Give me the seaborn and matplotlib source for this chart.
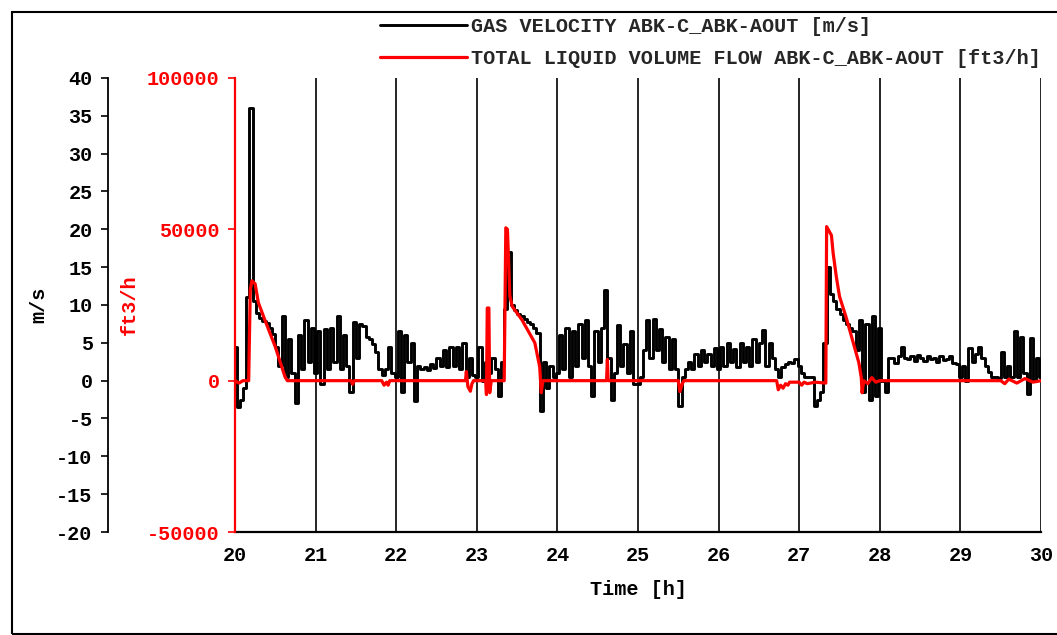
import numpy as np
import pandas as pd
import seaborn as sns
import matplotlib
matplotlib.use("Agg")
import matplotlib.pyplot as plt
from matplotlib.patches import Rectangle

# gas velocity [m/s], one sample every 0.04 h
gas_h20 = [4.5, -3.5, -2.5, -1.0, 11.0, 36.0, 10.5, 9.0, 8.3, 7.9, 7.6, 7.0, 6.2,
           4.5, 2.0, 8.5, 0.5, 5.5, 1.0, -3.0, 6.0, 1.5, 8.0, 2.5, 7.0]
gas_h21 = [1.0, 6.5, -0.5, 6.8, 1.5, 7.0, 2.5, 8.5, 1.5, 6.0, 2.0, -1.5, 7.8,
           3.0, 7.5, 7.2, 5.8, 5.5, 4.8, 3.8, 1.5, 0.8, 1.5, 4.5, 1.0]
gas_h22 = [0.5, 6.5, -1.5, 6.0, 2.5, 5.0, -2.7, 2.0, 1.5, 1.8, 1.4, 2.2, 1.7,
           3.0, 2.0, 4.0, 1.8, 4.5, 2.0, 4.5, 1.5, 5.0, 0.5, 3.0, 0.8]
gas_h23 = [0.5, 4.5, 0.0, 2.5, 1.0, 3.0, 1.5, -2.0, 2.5, 9.5, 17.0, 10.0, 9.3,
           8.8, 8.5, 8.1, 7.8, 7.5, 7.0, 6.3, -4.0, 2.5, -1.0, 2.0, 0.5]
gas_h24 = [1.0, 6.0, 1.5, 7.0, 0.5, 6.5, 2.0, 7.5, 3.0, 8.0, 2.0, -2.0, 6.5,
           2.5, 7.0, 12.0, 3.0, -2.5, 1.0, 7.3, 2.0, 4.8, 1.0, 6.5, -0.5]
gas_h25 = [-0.5, 0.5, 4.0, 8.0, 3.0, 8.2, 4.0, 6.8, 2.5, 5.8, 1.5, 5.5, 1.5,
           -3.3, 0.5, 1.5, 2.5, 1.5, 3.5, 2.0, 4.0, 2.5, 3.5, 2.0, 4.3]
gas_h26 = [1.5, 4.5, 2.0, 5.0, 2.5, 4.2, 1.8, 5.0, 2.5, 4.5, 2.0, 5.5, 2.5,
           5.0, 6.7, 2.0, 5.0, 3.0, 1.5, 0.5, 1.8, 2.2, 2.5, 2.3, 2.8]
gas_h27 = [2.0, 1.0, 0.5, 0.5, 0.5, -3.3, -2.5, -1.5, 5.0, 15.0, 11.5, 10.5, 9.5,
           8.8, 8.0, 7.5, 7.0, 6.5, 4.0, 8.0, -1.5, 7.5, -2.5, 8.5, -2.0]
gas_h28 = [7.0, 0.0, -1.5, 3.0, 3.0, 2.4, 3.2, 4.5, 3.0, 2.8, 3.3, 2.6, 3.4,
           3.0, 2.6, 3.2, 2.8, 3.0, 2.5, 3.3, 2.7, 2.9, 3.2, 2.4, 2.2]
gas_h29 = [0.5, 2.0, 0.0, 4.3, 2.5, 3.5, 4.5, 3.0, 2.0, 1.2, 0.5, 0.5, 0.3,
           3.8, 0.5, 2.0, 0.5, 6.5, 0.5, 5.8, 1.0, -1.8, 5.7, 0.0, 3.0, 0.5]

gas_vel = (gas_h20 + gas_h21 + gas_h22 + gas_h23 + gas_h24 +
           gas_h25 + gas_h26 + gas_h27 + gas_h28 + gas_h29)
gas_time = np.round(20 + 0.04 * np.arange(len(gas_vel)), 2)

# total liquid volume flow [ft3/h]
liq_time = [20.00, 20.05, 20.10, 20.17, 20.19, 20.21, 20.25, 20.29, 20.37, 20.50,
            20.62, 20.65, 21.44, 21.46, 21.48, 21.82, 21.85, 21.88, 21.90, 21.92,
            22.86, 22.87, 22.89, 22.92, 22.94, 22.96, 23.11, 23.12, 23.13, 23.15,
            23.16, 23.18, 23.34, 23.36, 23.38, 23.41, 23.44, 23.56, 23.72, 23.78,
            23.80, 23.82, 24.61, 24.62, 24.63, 25.50, 25.52, 25.55, 25.57, 26.72,
            26.74, 26.77, 26.80, 26.83, 26.86, 26.88, 27.00, 27.03, 27.06, 27.10,
            27.20, 27.33, 27.34, 27.40, 27.42, 27.46, 27.50, 27.58, 27.66, 27.74,
            27.77, 27.78, 27.80, 27.85, 27.90, 27.95, 28.00, 29.50, 29.55, 29.60,
            29.70, 29.80, 29.90, 30.00]
liq_flow = [0, -800, 0, 0, 30000, 33000, 32000, 25800, 20100, 11200,
            1300, 0, 0, -1200, 0, 0, -1500, -500, -1500, 0,
            0, 3000, -2000, -3500, -1000, 0, 0, -4600, 24000, 24000,
            -4000, 0, 0, 50500, 50000, 28000, 24500, 20100, 12500, 4600,
            -4000, 0, 0, 7000, 0, 0, -3600, -1000, 0, 0,
            -3000, -1500, -2500, -1000, -1500, -500, -500, -1500, -500, -1000,
            -500, -800, 50900, 48000, 42300, 34400, 27800, 21100, 13500, 5900,
            1000, -4000, 0, -1000, 1000, -500, 0, 0, -1000, 500,
            -800, 700, -500, 0]

gas_df = pd.DataFrame({"time": gas_time, "vel": gas_vel})
liq_df = pd.DataFrame({"time": liq_time, "flow": liq_flow})

sns.set_style("white")
plt.rcParams["font.family"] = ["Liberation Mono", "DejaVu Sans Mono"]
plt.rcParams["font.weight"] = "bold"
plt.rcParams["axes.labelweight"] = "bold"
plt.rcParams["axes.unicode_minus"] = False
fs = 14.5

fig = plt.figure(figsize=(10.57, 6.35), dpi=100)
ax = fig.add_axes([0.2223, 0.1622, 0.7626, 0.7150])
ax2 = ax.twinx()

sns.lineplot(data=gas_df, x="time", y="vel", ax=ax, color="black", lw=2.1,
             drawstyle="steps-mid", estimator=None, legend=False)
sns.lineplot(data=liq_df, x="time", y="flow", ax=ax2, color="red", lw=2.3,
             estimator=None, legend=False)

ax.set_xlim(20, 30)
ax.set_ylim(-20, 40)
ax.set_xticks(range(20, 31))
ax.set_yticks(range(-20, 41, 5))
ax2.set_ylim(-50000, 100000)
ax2.set_yticks([-50000, 0, 50000, 100000])

ax.grid(axis="x", color="black", lw=1.2)
ax.grid(axis="y", visible=False)

for s in ["top", "right"]:
    ax.spines[s].set_visible(False)
ax.spines["left"].set_position(("axes", -0.1576))
ax.spines["left"].set_color("black")
ax.spines["bottom"].set_color("black")
ax.spines["left"].set_linewidth(1.3)
ax.spines["bottom"].set_linewidth(1.6)

for s in ["top", "right", "bottom"]:
    ax2.spines[s].set_visible(False)
ax2.spines["left"].set_visible(True)
ax2.spines["left"].set_color("red")
ax2.spines["left"].set_linewidth(1.6)
ax2.yaxis.set_ticks_position("left")
ax2.yaxis.set_label_position("left")

ax.tick_params(axis="y", colors="black", left=True, length=5, width=1.2,
               direction="out", labelsize=fs, pad=6)
ax.tick_params(axis="x", colors="black", bottom=True, length=0, labelsize=fs, pad=10)
ax2.tick_params(axis="y", colors="red", left=True, right=False, labelleft=True,
                labelright=False, length=5, width=1.2, labelsize=fs, pad=6)

ax.set_xlabel("Time [h]", fontsize=fs, color="black", labelpad=11)
ax.set_ylabel("m/s", fontsize=fs, color="black")
ax.yaxis.set_label_coords(-0.2315, 0.5)
ax2.set_ylabel("ft3/h", fontsize=fs, color="red")
ax2.yaxis.set_label_coords(-0.1195, 0.5)

fig.legend(handles=[ax.lines[0], ax2.lines[0]],
           labels=["GAS VELOCITY ABK-C_ABK-AOUT [m/s]",
                   "TOTAL LIQUID VOLUME FLOW ABK-C_ABK-AOUT [ft3/h]"],
           loc="upper left", bbox_to_anchor=(0.3595, 0.973), frameon=False,
           handlelength=4.3, handletextpad=0.2, borderpad=0, borderaxespad=0,
           labelspacing=0.65, fontsize=fs)

fig.patches.append(Rectangle((12 / 1057, 1 / 635), 1.0, 0.9795, transform=fig.transFigure,
                             fill=False, ec="black", lw=1.5))

fig.savefig("out.png", dpi=100)
